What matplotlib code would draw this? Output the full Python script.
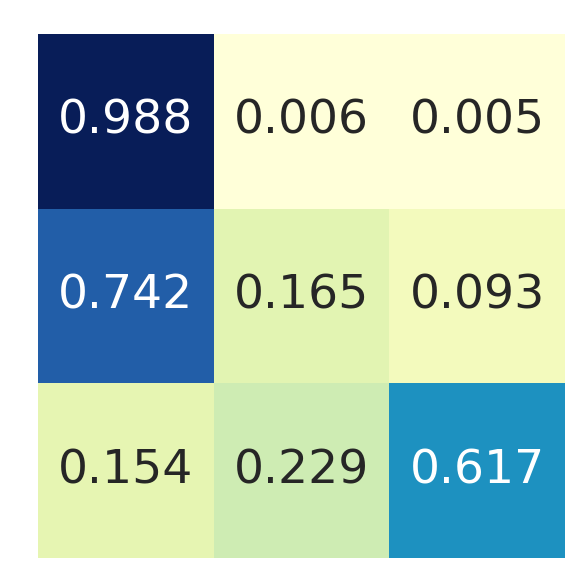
import numpy as np
import matplotlib
matplotlib.use("Agg")
import matplotlib.pyplot as plt
import seaborn as sns

# confusion-matrix style values, row by row
row_a = [0.988, 0.006, 0.005]
row_b = [0.742, 0.165, 0.093]
row_c = [0.154, 0.229, 0.617]
values = np.array([row_a, row_b, row_c])

fig = plt.figure(figsize=(5.86, 5.86), dpi=100)
ax = fig.add_axes([38 / 586, 1 - 558 / 586, 527 / 586, 524 / 586])

sns.heatmap(values, ax=ax, cmap="YlGnBu", annot=True, fmt=".3f",
            cbar=False, annot_kws={"fontsize": 34},
            xticklabels=False, yticklabels=False)
ax.tick_params(left=False, bottom=False)

fig.savefig("out.png", dpi=100)
